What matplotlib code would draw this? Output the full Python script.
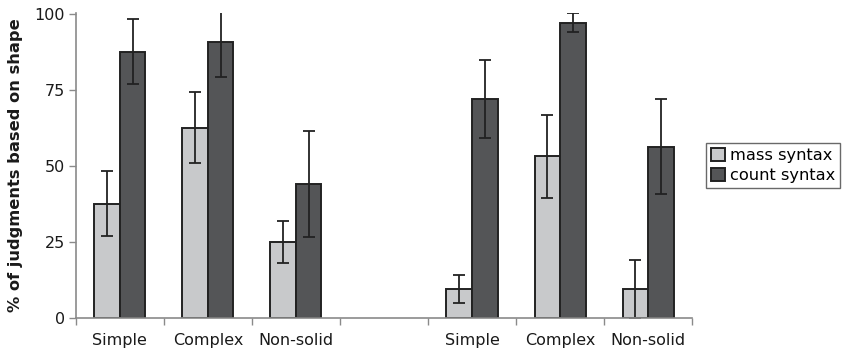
import matplotlib.pyplot as plt
import numpy as np

categories = ['Simple', 'Complex', 'Non-solid', '', 'Simple', 'Complex', 'Non-solid']
mass_vals = [37.5, 62.6, 25.0, np.nan, 9.5, 53.2, 9.5]
mass_err = [10.7, 11.7, 6.8, np.nan, 4.6, 13.7, 9.5]
count_vals = [87.6, 90.7, 44.0, np.nan, 72.0, 97.1, 56.4]
count_err = [10.7, 11.4, 17.4, np.nan, 12.8, 3.1, 15.5]

LIGHT = '#c8c9cb'
DARK = '#545557'
EDGE = '#222222'
AXIS = '#8a8a8a'


def main():
    fig = plt.figure(figsize=(8.43, 3.54), dpi=100)
    ax = fig.add_axes([0.090, 0.102, 0.731, 0.861])

    x = np.arange(len(categories)) + 0.5
    w = 0.29
    err_kw = dict(ecolor=EDGE, elinewidth=1.3, capsize=4.3, capthick=1.3)

    ax.bar(x - w / 2, mass_vals, w, yerr=mass_err, color=LIGHT,
           edgecolor=EDGE, linewidth=1.4, label='mass syntax', error_kw=err_kw)
    ax.bar(x + w / 2, count_vals, w, yerr=count_err, color=DARK,
           edgecolor=EDGE, linewidth=1.4, label='count syntax', error_kw=err_kw)

    ax.set_xlim(0, len(categories))
    ax.set_ylim(0, 100.3)
    ax.set_yticks([0, 25, 50, 75, 100])

    # labels at slot centres, tick marks at slot borders
    ax.set_xticks(x)
    ax.set_xticklabels(categories)
    ax.set_xticks(np.arange(len(categories) + 1), minor=True)
    ax.tick_params(axis='x', which='major', length=0, pad=11, labelsize=11.5,
                   labelcolor='#1a1a1a')
    ax.tick_params(axis='x', which='minor', length=5, color=AXIS, width=1)
    ax.tick_params(axis='y', length=5, color=AXIS, width=1, labelsize=11.5,
                   pad=3, labelcolor='#1a1a1a')

    for s in ['top', 'right']:
        ax.spines[s].set_visible(False)
    for s in ['left', 'bottom']:
        ax.spines[s].set_color(AXIS)
        ax.spines[s].set_linewidth(1.2)

    ax.set_ylabel('% of judgments based on shape', fontsize=11.7,
                  fontweight='bold', labelpad=8, color='#1a1a1a')

    leg = ax.legend(loc='center left', bbox_to_anchor=(1.022, 0.5),
                    fontsize=11.7, frameon=True, fancybox=False,
                    handlelength=0.9, handleheight=0.9, handletextpad=0.3,
                    borderpad=0.3, labelspacing=0.3, borderaxespad=0)
    leg.get_frame().set_edgecolor('#444444')
    leg.get_frame().set_linewidth(1)

    fig.savefig('out.png', dpi=100)
    plt.close(fig)


if __name__ == '__main__':
    main()
